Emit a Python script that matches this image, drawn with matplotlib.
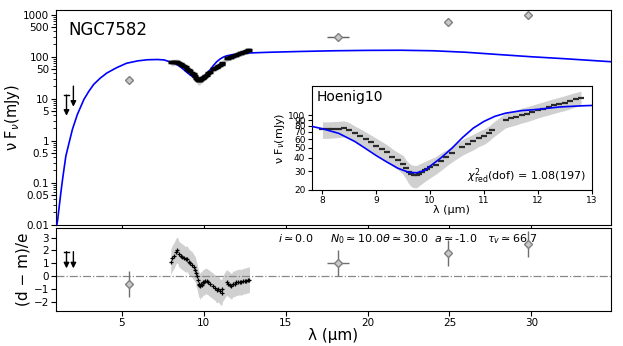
import matplotlib
matplotlib.use('Agg')
import matplotlib.pyplot as plt
from matplotlib.ticker import FixedLocator, LogLocator, NullFormatter, FixedFormatter

# ---------------- data ----------------
model_wl = [1.04, 1.1, 1.2, 1.3, 1.4, 1.5, 1.6, 1.8, 2.0, 2.3, 2.7, 3.0, 3.3, 3.7, 4.1, 4.7,
            5.3, 6.0, 6.6, 7.2, 7.6, 7.8, 8.0, 8.3, 8.6, 8.8, 9.0, 9.2, 9.4, 9.6, 9.75, 9.9,
            10.0, 10.2, 10.4, 10.6, 10.8, 11.0, 11.2, 11.4, 11.7, 12.0, 12.4, 12.8, 13.0,
            14.0, 16.0, 18.0, 20.0, 22.0, 24.0, 26.0, 28.0, 30.0, 32.0, 34.9]
model_flux = [0.0095, 0.013, 0.028, 0.06, 0.12, 0.23, 0.43, 0.9, 1.86, 4.2, 9.6, 15, 22, 31, 41, 55,
              70, 80, 85, 86, 84, 79, 75, 68, 57, 49, 42, 36.5, 32, 29.3, 29, 30.5,
              33.5, 40, 49, 62, 76, 88, 98, 105, 111, 114, 120, 123, 124,
              128, 134, 139, 142, 143, 139, 128, 113, 100, 90, 76]

spec_wl = [8.00, 8.10, 8.20, 8.30, 8.40, 8.50, 8.60, 8.70, 8.80, 8.90, 9.00, 9.10, 9.20, 9.30,
           9.40, 9.50, 9.55, 9.60, 9.65, 9.70, 9.75, 9.80, 9.85, 9.90, 9.95, 10.00, 10.10,
           10.20, 10.30, 10.40, 10.60, 10.70, 10.80, 10.90, 11.00, 11.10, 11.15, 11.40, 11.50,
           11.60, 11.70, 11.80, 11.90, 12.00, 12.10, 12.20, 12.30, 12.40, 12.50, 12.60, 12.70, 12.80]
spec_flux = [74, 74, 74.5, 75, 76, 73, 68, 64, 60, 56, 52, 48.5, 45, 41,
             38, 35, 32, 29.5, 28, 27.5, 27.5, 28.5, 29.5, 30.5, 31.5, 32.5, 34.5,
             37.5, 40.5, 44, 51, 54, 57, 61, 64, 69, 73, 91, 94,
             97, 101, 104, 108, 112, 116, 120, 124, 128, 132, 137, 142, 146]
spec_err = [13, 13, 13, 13, 13, 12.5, 11.5, 11, 10, 9.5, 9, 8.5, 8, 7.5,
            7, 7, 6.5, 6.5, 6.5, 6.5, 6.5, 6.5, 6.5, 6.5, 6.5, 6.5, 6.5,
            7, 7, 7.5, 8.5, 9, 9.5, 10, 10.5, 11, 11.5, 14.5, 15,
            15.5, 16, 16.5, 17, 17.5, 18, 19, 19.5, 20, 21, 21.5, 22, 23]
spec_resid = [1.1, 1.4, 1.6, 1.9, 2.05, 1.7, 1.6, 1.5, 1.4, 1.3, 1.35, 1.1, 1.0, 0.9,
              0.7, 0.5, 0.2, 0.0, -0.3, -0.6, -0.7, -0.8, -0.6, -0.7, -0.5, -0.5, -0.4,
              -0.4, -0.5, -0.6, -0.8, -0.9, -1.1, -1.0, -1.2, -1.3, -1.0, -0.5, -0.6,
              -0.7, -0.8, -0.6, -0.6, -0.5, -0.5, -0.45, -0.5, -0.4, -0.4, -0.35, -0.3, -0.3]

phot_wl = [5.45, 18.2, 24.9, 29.8]
phot_flux = [27.7, 300, 667, 962]
phot_xerr = [0.0, 0.7, 0.0, 0.0]
phot_yerr = [2.0, 20.0, 80.0, 100.0]
phot_resid = [-0.6, 1.0, 1.8, 2.5]
phot_resid_err = [1.0, 1.0, 1.0, 1.0]

ul_wl = [1.64, 2.06]
ul_flux = [12.2, 20.0]
ul_xerr = [0.15, 0.0]
ul_resid = [1.9, 1.9]

main_yticks = [0.01, 0.05, 0.1, 0.5, 1, 5, 10, 50, 100, 500, 1000]
main_yticklabels = ['0.01', '0.05', '0.1', '0.5', '1', '5', '10', '50', '100', '500', '1000']
inset_yticks = [20, 30, 40, 50, 60, 70, 80, 90, 100]
x_ticks = [5, 10, 15, 20, 25, 30]
inset_xticks = [8, 9, 10, 11, 12, 13]
resid_yticks = [-2, -1, 0, 1, 2, 3]

BLUE = '#0000ff'
BAND = '#d0d0d0'

fig = plt.figure(figsize=(6.23, 3.46), dpi=100)
ax1 = fig.add_axes([0.0899, 0.3506, 0.8908, 0.6205])
ax2 = fig.add_axes([0.0899, 0.1012, 0.8908, 0.2390])
ax3 = fig.add_axes([0.5003, 0.4509, 0.4495, 0.3014])

# ---------------- main panel ----------------
ax1.set_yscale('log')
ax1.plot(model_wl, model_flux, color=BLUE, lw=1.2, zorder=3)
lo = [f - e for f, e in zip(spec_flux, spec_err)]
hi = [f + e for f, e in zip(spec_flux, spec_err)]
ax1.fill_between(spec_wl, lo, hi, color=BAND, lw=0, zorder=2)
ax1.plot(spec_wl, spec_flux, ls='none', marker='_', ms=4, mew=2.5, color='k', zorder=4)
ax1.errorbar(phot_wl, phot_flux, xerr=phot_xerr, yerr=phot_yerr, fmt='D', ms=4,
             mfc='#c8c8c8', mec='#808080', ecolor='#606060', elinewidth=1, capsize=0, zorder=5)
for x, y, xe in zip(ul_wl, ul_flux, ul_xerr):
    ax1.annotate('', xy=(x, y / 3.1), xytext=(x, y),
                 arrowprops=dict(arrowstyle='-|>', color='k', lw=1, mutation_scale=8,
                                 shrinkA=0, shrinkB=0))
    if xe > 0:
        ax1.plot([x - xe, x + xe], [y, y], color='k', lw=1)
ax1.set_xlim(1.0, 34.85)
ax1.set_ylim(0.01, 1300)
ax1.yaxis.set_major_locator(FixedLocator(main_yticks))
ax1.yaxis.set_major_formatter(FixedFormatter(main_yticklabels))
ax1.yaxis.set_minor_locator(LogLocator(base=10, subs=range(2, 10), numticks=20))
ax1.yaxis.set_minor_formatter(NullFormatter())
ax1.set_xticks(x_ticks)
ax1.set_xticklabels([])
ax1.tick_params(labelsize=7.5, pad=1.5)
ax1.set_ylabel('ν F$_{\\nu}$(mJy)', fontsize=10.5, labelpad=1)
ax1.text(0.022, 0.905, 'NGC7582', transform=ax1.transAxes, fontsize=12, va='center', ha='left')

# ---------------- inset ----------------
ax3.set_yscale('log')
ax3.fill_between(spec_wl, lo, hi, color=BAND, lw=0, zorder=1)
ax3.plot(spec_wl, spec_flux, ls='none', marker='_', ms=4, mew=1.6, color='#2a2a2a', zorder=2)
ax3.plot(model_wl, model_flux, color=BLUE, lw=1.2, zorder=3)
ax3.set_xlim(7.8, 13)
ax3.set_ylim(20, 190)
ax3.yaxis.set_major_locator(FixedLocator(inset_yticks))
ax3.yaxis.set_major_formatter(FixedFormatter([str(v) for v in inset_yticks]))
ax3.yaxis.set_minor_locator(FixedLocator([]))
ax3.set_xticks(inset_xticks)
ax3.set_xticklabels([str(v) for v in inset_xticks])
ax3.tick_params(labelsize=6.5, length=3, pad=1.5)
ax3.set_ylabel('ν F$_{\\nu}$(mJy)', fontsize=8, labelpad=1)
ax3.set_xlabel('λ (μm)', fontsize=8, labelpad=0)
ax3.text(0.018, 0.895, 'Hoenig10', transform=ax3.transAxes, fontsize=10, va='center', ha='left')
ax3.text(0.98, 0.13, r'$\chi^2_{\rm red}$(dof) = 1.08(197)', transform=ax3.transAxes,
         fontsize=8, va='center', ha='right')

# ---------------- residual panel ----------------
rlo = [r - 1 for r in spec_resid]
rhi = [r + 1 for r in spec_resid]
ax2.fill_between(spec_wl, rlo, rhi, color=BAND, lw=0, zorder=1)
ax2.plot(spec_wl, spec_resid, ls='none', marker='+', ms=3.5, mew=0.9, color='k', zorder=3)
ax2.axhline(0, color='#888888', ls='-.', lw=0.9, zorder=2)
ax2.errorbar(phot_wl, phot_resid, xerr=phot_xerr, yerr=phot_resid_err, fmt='D', ms=4,
             mfc='#c8c8c8', mec='#808080', ecolor='#707070', elinewidth=1, capsize=0, zorder=5)
for x, r, xe in zip(ul_wl, ul_resid, ul_xerr):
    ax2.annotate('', xy=(x, r - 1.3), xytext=(x, r),
                 arrowprops=dict(arrowstyle='-|>', color='k', lw=1, mutation_scale=8,
                                 shrinkA=0, shrinkB=0))
    if xe > 0:
        ax2.plot([x - xe, x + xe], [r, r], color='k', lw=1)
ax2.set_xlim(1.0, 34.85)
ax2.set_ylim(-2.72, 3.72)
ax2.set_xticks(x_ticks)
ax2.set_yticks(resid_yticks)
ax2.set_yticklabels(['\u22122', '\u22121', '0', '1', '2', '3'])
ax2.tick_params(labelsize=7.5, pad=1.5)
ax2.set_ylabel('(d \u2212 m)/e', fontsize=11, labelpad=2)
ax2.set_xlabel('λ (μm)', fontsize=11, labelpad=0)
ax2.text(0.4, 0.875,
         r'$i\simeq0.0$     $N_0\simeq10.0\theta\simeq30.0$  $a\simeq$-1.0   $\tau_v\simeq66.7$',
         transform=ax2.transAxes, fontsize=8, va='center', ha='left')

fig.savefig('out.png', dpi=100)
